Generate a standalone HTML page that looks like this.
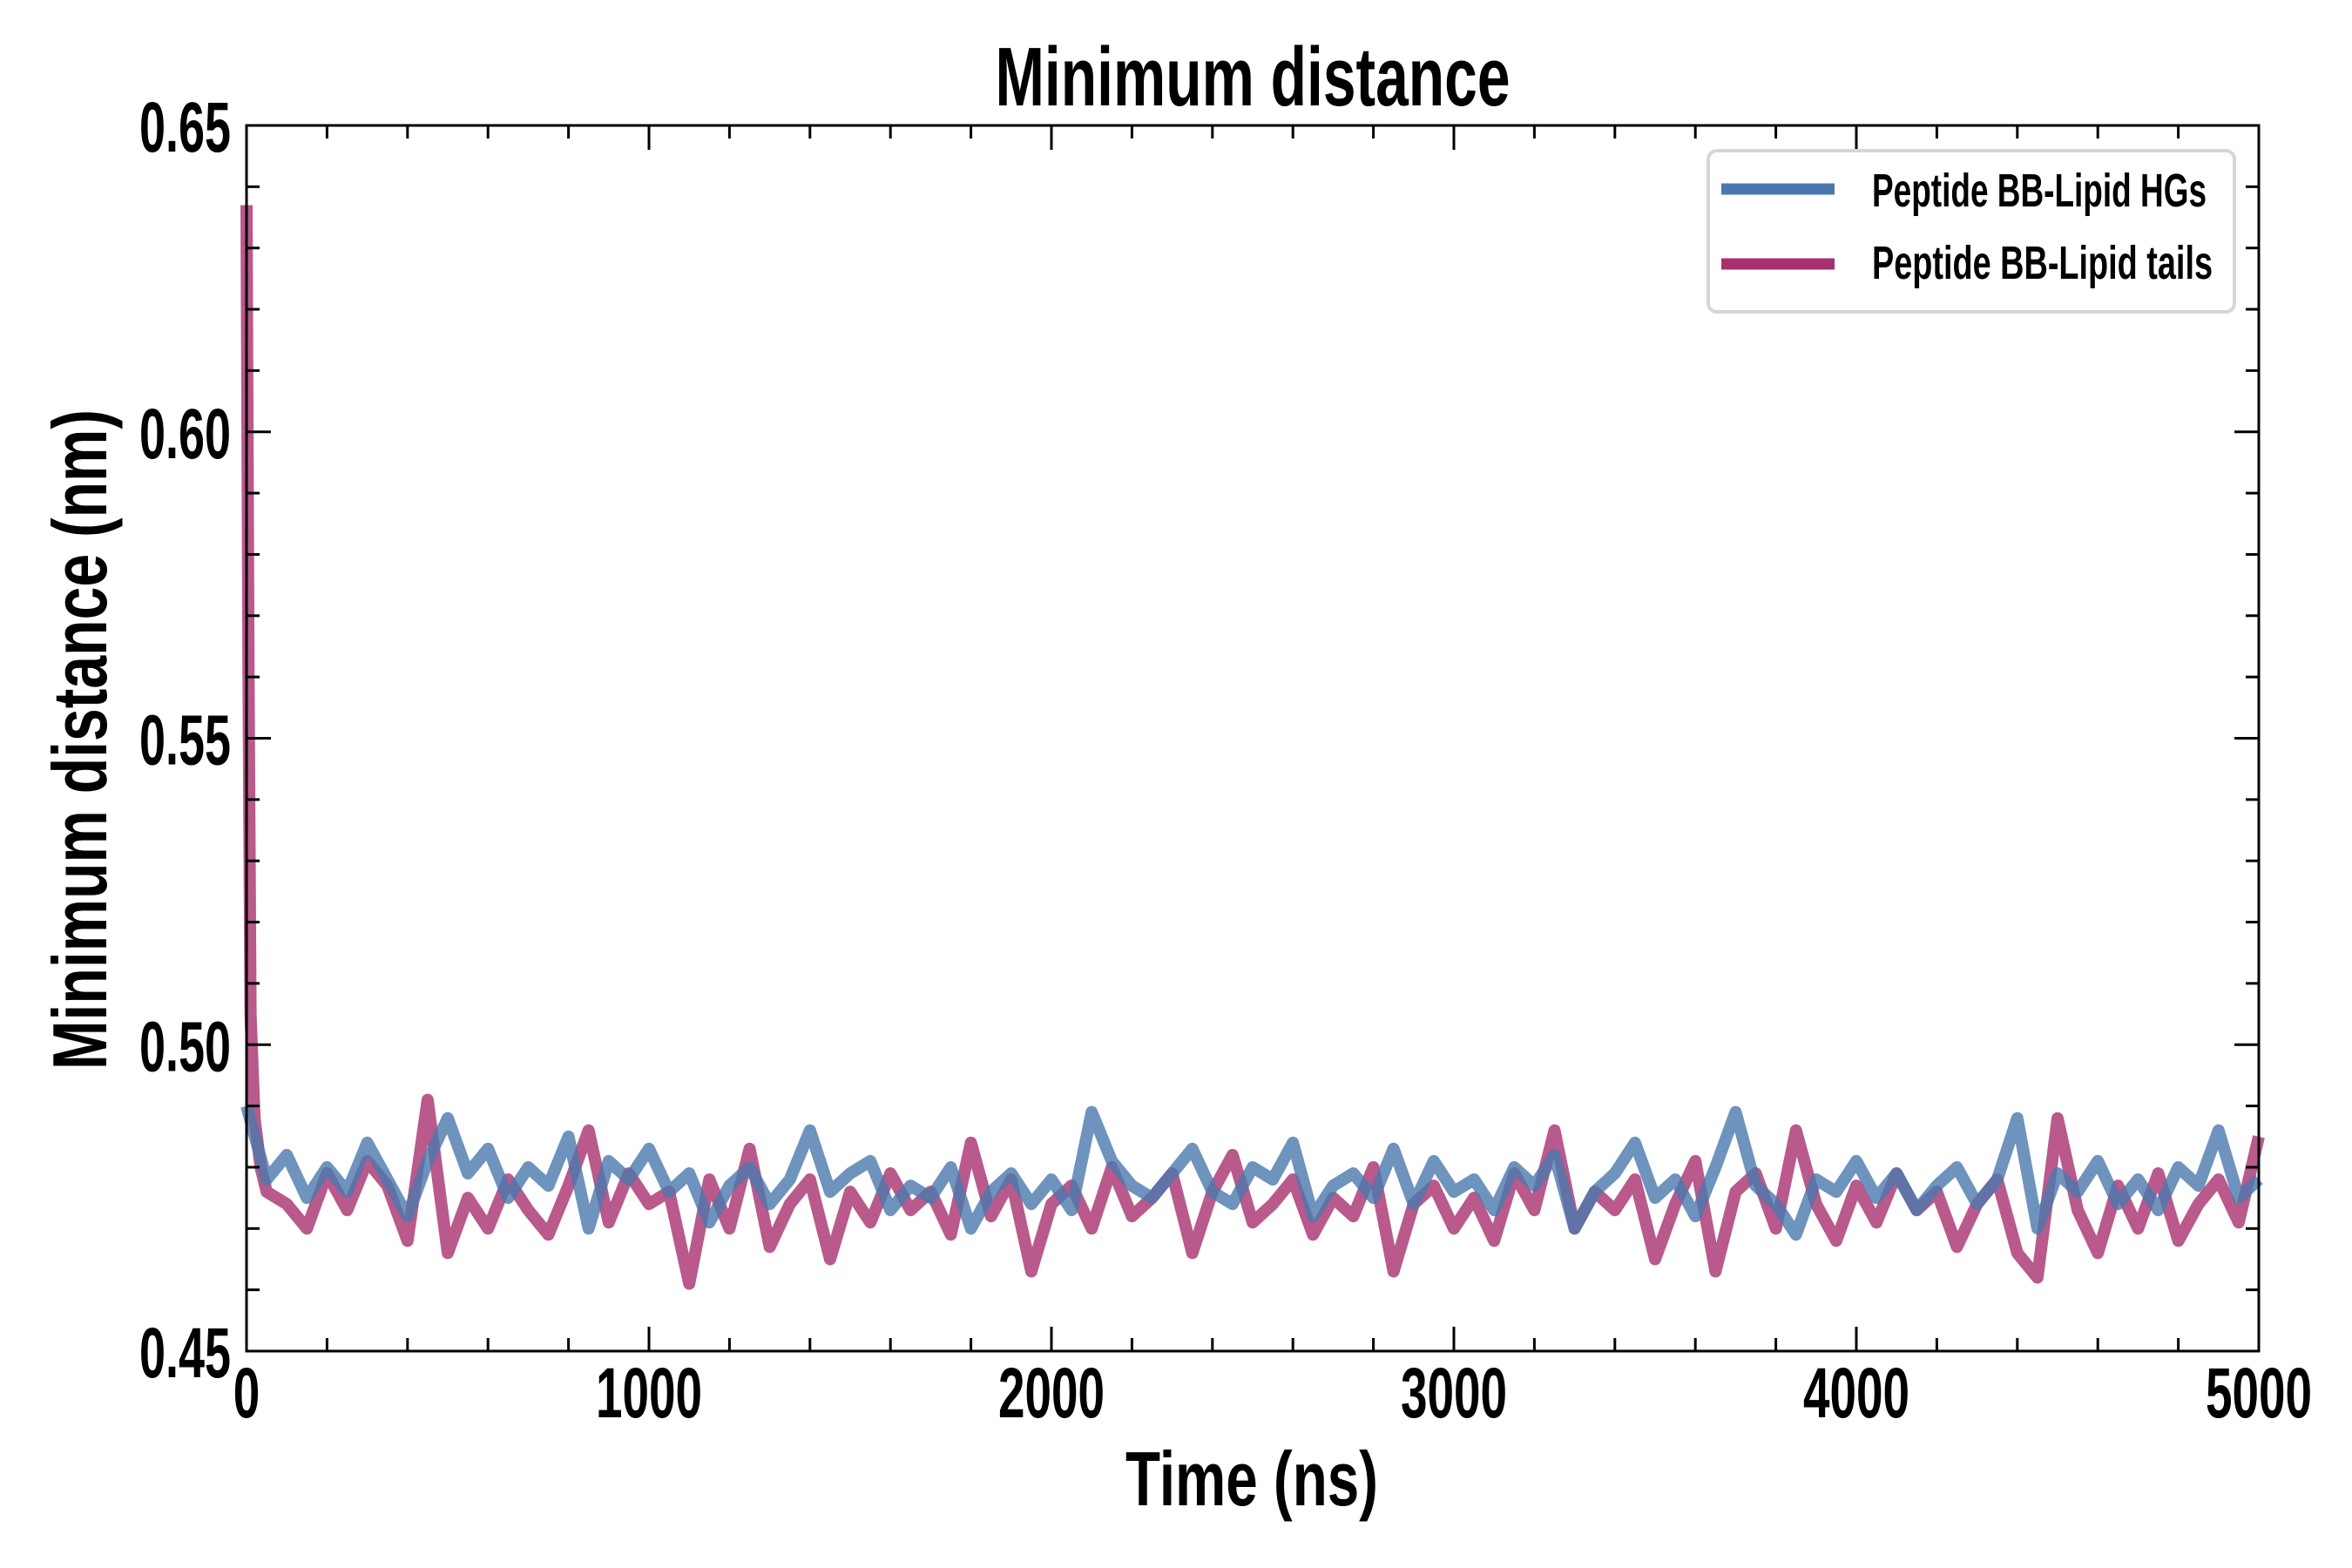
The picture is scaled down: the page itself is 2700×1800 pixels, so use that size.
<!DOCTYPE html>
<html><head><meta charset="utf-8"><style>
html,body{margin:0;padding:0;background:#fff;}
svg{display:block;}
text{font-family:"Liberation Sans Narrow","Liberation Sans",sans-serif;font-weight:bold;fill:#000;}
</style></head><body>
<svg id="chart" width="2700" height="1800" viewBox="0 0 2700 1800" xmlns="http://www.w3.org/2000/svg">
<rect width="2700" height="1800" fill="#fff"/>
<text x="1438" y="121" font-size="96" text-anchor="middle" textLength="591" lengthAdjust="spacingAndGlyphs">Minimum distance</text>
<text x="1437" y="1728" font-size="88" text-anchor="middle" textLength="290" lengthAdjust="spacingAndGlyphs">Time (ns)</text>
<text transform="translate(122,849) rotate(-90)" x="0" y="0" font-size="88" text-anchor="middle" textLength="758" lengthAdjust="spacingAndGlyphs">Minimum distance (nm)</text>
<g id="plot"></g>
<g id="axes"></g>
<g>
<rect x="1961" y="173" width="604" height="185" rx="10" fill="#fff" fill-opacity="0.8" stroke="#d6d6d6" stroke-width="4"/>
<line x1="1976" y1="217" x2="2106" y2="217" stroke="#4a78ad" stroke-width="13"/>
<text x="2149" y="237" font-size="54" textLength="384" lengthAdjust="spacingAndGlyphs">Peptide BB-Lipid HGs</text>
<line x1="1976" y1="303" x2="2106" y2="303" stroke="#a8306f" stroke-width="13"/>
<text x="2149" y="320" font-size="54" textLength="391" lengthAdjust="spacingAndGlyphs">Peptide BB-Lipid tails</text>
</g>
</svg>
<script>
const xTicks=[0,1000,2000,3000,4000,5000];
const xTickLabels=["0","1000","2000","3000","4000","5000"];
const yTicks=[0.45,0.50,0.55,0.60,0.65];
const yTickLabels=["0.45","0.50","0.55","0.60","0.65"];
const timeStep=50;
const hgsValues=[0.490,0.478,0.482,0.475,0.480,0.476,0.484,0.478,0.472,0.481,0.488,0.479,0.483,0.475,0.480,0.477,0.485,0.470,0.481,0.478,0.483,0.476,0.479,0.471,0.477,0.480,0.474,0.478,0.486,0.476,
0.479,0.481,0.473,0.477,0.475,0.480,0.470,0.476,0.479,0.474,0.478,0.473,0.489,0.481,0.477,0.475,0.479,0.483,0.476,0.474,
0.480,0.478,0.484,0.472,0.477,0.479,0.475,0.483,0.474,0.481,0.476,0.478,0.473,0.480,0.477,0.482,0.470,0.476,0.479,0.484,
0.475,0.478,0.472,0.480,0.489,0.477,0.474,0.469,0.478,0.476,0.481,0.475,0.479,0.473,0.477,0.480,0.474,0.478,0.488,0.470,
0.479,0.476,0.481,0.474,0.478,0.473,0.480,0.477,0.486,0.475,0.478];
const tailsSpikeTimes=[0,5,10,20,35];
const tailsSpikeValues=[0.637,0.560,0.505,0.488,0.480];
const tailsValues=[0.476,0.474,0.470,0.479,0.473,0.481,0.477,0.468,0.491,0.466,0.475,0.470,0.478,0.473,0.469,0.477,0.486,0.471,0.479,0.474,
0.476,0.461,0.478,0.470,0.483,0.467,0.474,0.478,0.465,0.476,0.471,0.479,0.473,0.476,0.469,0.484,0.472,0.478,0.463,0.474,
0.477,0.470,0.480,0.472,0.475,0.479,0.466,0.476,0.482,0.471,0.474,0.478,0.469,0.475,0.472,0.480,0.463,0.474,0.477,0.470,
0.475,0.468,0.479,0.473,0.486,0.470,0.476,0.473,0.478,0.465,0.474,0.481,0.463,0.476,0.479,0.470,0.486,0.474,0.468,0.477,
0.471,0.479,0.473,0.476,0.467,0.474,0.478,0.466,0.462,0.488,0.473,0.466,0.477,0.470,0.479,0.468,0.474,0.478,0.471,0.485];

const X0=283,X1=2593,Y0=144,Y1=1551;
const xMin=0,xMax=5000,yMin=0.45,yMax=0.65;
function sx(v){return X0+(v-xMin)/(xMax-xMin)*(X1-X0);}
function sy(v){return Y1-(v-yMin)/(yMax-yMin)*(Y1-Y0);}
const NS="http://www.w3.org/2000/svg";
function mk(tag,attrs,parent){const e=document.createElementNS(NS,tag);for(const k in attrs)e.setAttribute(k,attrs[k]);parent.appendChild(e);return e;}
const plot=document.getElementById('plot'),axes=document.getElementById('axes');

let tp=[];
tailsSpikeTimes.forEach((t,i)=>tp.push(sx(t).toFixed(1)+','+sy(tailsSpikeValues[i]).toFixed(1)));
tailsValues.forEach((v,i)=>tp.push(sx((i+1)*timeStep).toFixed(1)+','+sy(v).toFixed(1)));
const tl=mk('polyline',{points:tp.join(' '),fill:'none',stroke:'#a8306f','stroke-width':14,'stroke-opacity':0.8,'stroke-linejoin':'round'},plot);


let hp=hgsValues.map((v,i)=>sx(i*timeStep).toFixed(1)+','+sy(v).toFixed(1));
const hl=mk('polyline',{points:hp.join(' '),fill:'none',stroke:'#4a78ad','stroke-width':14,'stroke-opacity':0.8,'stroke-linejoin':'round'},plot);



const fr=mk('rect',{x:X0,y:Y0,width:X1-X0,height:Y1-Y0,fill:'none',stroke:'#000','stroke-width':3},axes);


for(let v=0;v<=5000;v+=200){const major=v%1000===0;const L=major?28:15;const x=sx(v);
 const a=mk('line',{x1:x,y1:Y1,x2:x,y2:Y1-L,stroke:'#000','stroke-width':3},axes);
 
 
 const b=mk('line',{x1:x,y1:Y0,x2:x,y2:Y0+L,stroke:'#000','stroke-width':3},axes);
 
 }
xTicks.forEach((v,i)=>{const s=xTickLabels[i];
 const t=mk('text',{x:sx(v),y:1627,'font-size':82,'text-anchor':'middle',textLength:s.length*30.5,lengthAdjust:'spacingAndGlyphs'},axes);
 t.textContent=s;
 
 });
for(let k=0;k<=20;k++){const v=0.45+k*0.01;const major=k%5===0;const L=major?28:15;const y=sy(v);
 const a=mk('line',{x1:X0,y1:y,x2:X0+L,y2:y,stroke:'#000','stroke-width':3},axes);
 
 
 const b=mk('line',{x1:X1,y1:y,x2:X1-L,y2:y,stroke:'#000','stroke-width':3},axes);
 
 }
yTicks.forEach((v,i)=>{const s=yTickLabels[i];
 const t=mk('text',{x:265,y:sy(v)+30,'font-size':82,'text-anchor':'end',textLength:105,lengthAdjust:'spacingAndGlyphs'},axes);
 t.textContent=s;
 
 });
</script>
</body></html>
